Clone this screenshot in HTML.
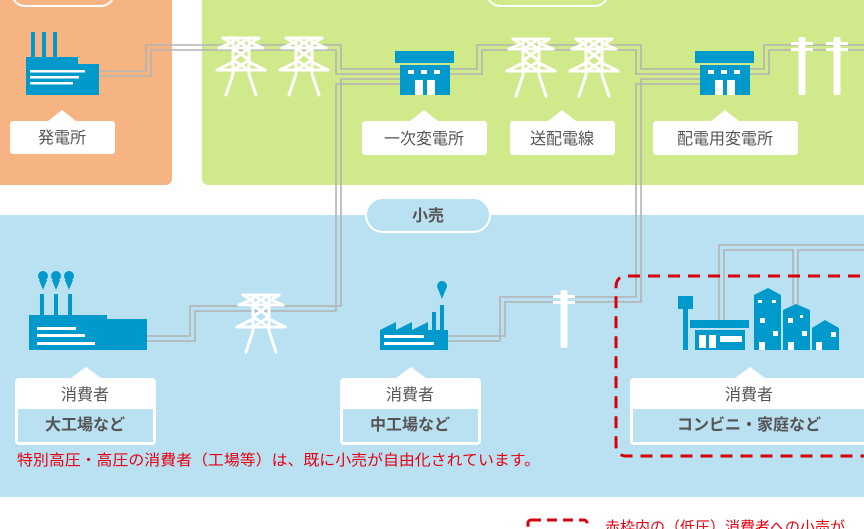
<!DOCTYPE html>
<html><head><meta charset="utf-8"><style>
html,body{margin:0;padding:0;width:864px;height:529px;overflow:hidden;background:#fff}
svg{display:block}
text{font-family:"Liberation Sans","Noto Sans CJK JP",sans-serif}
</style></head><body>
<svg width="864" height="529" viewBox="0 0 864 529" xmlns="http://www.w3.org/2000/svg">
<defs>
<g id="tower" stroke="#fff" stroke-width="3" fill="none" stroke-linecap="round">
 <line x1="-18" y1="0" x2="18" y2="0"/>
 <line x1="-22" y1="10" x2="22" y2="10"/>
 <line x1="-24" y1="32" x2="24" y2="32"/>
 <line x1="-8" y1="0" x2="-8" y2="36"/><line x1="8" y1="0" x2="8" y2="36"/>
 <line x1="-8" y1="0" x2="8" y2="10"/><line x1="8" y1="0" x2="-8" y2="10"/>
 <line x1="-8" y1="10" x2="8" y2="22"/><line x1="8" y1="10" x2="-8" y2="22"/>
 <line x1="-8" y1="22" x2="8" y2="32"/><line x1="8" y1="22" x2="-8" y2="32"/>
 <line x1="-18" y1="0" x2="-8" y2="6"/><line x1="18" y1="0" x2="8" y2="6"/>
 <line x1="-22" y1="10" x2="-8" y2="4"/><line x1="22" y1="10" x2="8" y2="4"/>
 <line x1="-24" y1="32" x2="-8" y2="24"/><line x1="24" y1="32" x2="8" y2="24"/>
 <line x1="-8" y1="36" x2="-15" y2="57"/><line x1="8" y1="36" x2="15" y2="57"/>
</g>
<g id="pole" fill="#fff">
 <rect x="-3.5" y="0" width="7" height="58" rx="2"/>
 <rect x="-11" y="5" width="22" height="3"/>
 <rect x="-11" y="11" width="22" height="3"/>
</g>
<g id="sub">
 <rect x="0" y="0" width="59" height="12" fill="#0099cc"/>
 <rect x="5" y="14" width="50" height="30" fill="#0099cc"/>
 <rect x="13" y="19" width="6" height="4" fill="#fff"/><rect x="26" y="19" width="6" height="4" fill="#fff"/><rect x="39" y="19" width="6" height="4" fill="#fff"/>
 <rect x="20" y="29" width="8" height="15" fill="#fff"/><rect x="32" y="29" width="8" height="15" fill="#fff"/>
</g>
</defs>
<path d="M0 0H172V178Q172 185 165 185H0Z" fill="#f5b482"/>
<path d="M202 0H864V185H209Q202 185 202 178Z" fill="#d0e98a"/>
<rect x="12" y="-20" width="102" height="26" rx="13" fill="none" stroke="#fff" stroke-width="2"/>
<rect x="487" y="-20" width="121" height="26" rx="13" fill="none" stroke="#fff" stroke-width="2"/>
<rect x="0" y="215" width="864" height="282" fill="#b9e1f1"/>
<rect x="366" y="198" width="124" height="34" rx="17" fill="#b9e1f1" stroke="#fff" stroke-width="2"/>
<text x="428" y="221" font-size="16" font-weight="bold" fill="#555" text-anchor="middle">小売</text>

<g fill="none" stroke="#b3b3b3" stroke-width="1.6">
 <polyline points="99,71 146,71 146,45 341,45 341,69 400,69"/>
 <polyline points="99,76 151,76 151,50 336,50 336,74 400,74"/>
 <polyline points="400,79 341,79 341,306 190,306 190,336 147,336"/>
 <polyline points="400,84 336,84 336,311 195,311 195,341 147,341"/>
 <polyline points="450,69 477,69 477,45 641,45 641,69 700,69"/>
 <polyline points="450,74 482,74 482,50 636,50 636,74 700,74"/>
 <polyline points="700,79 641,79 641,302 505,302 505,336 448,336"/>
 <polyline points="700,84 636,84 636,297 500,297 500,341 448,341" />
 <polyline points="750,69 764,69 764,45 864,45"/>
 <polyline points="750,74 769,74 769,50 864,50"/>
 <polyline points="719,325 719,245 864,245"/>
 <polyline points="724,325 724,250 793,250 793,305"/>
 <polyline points="798,305 798,250 864,250"/>
</g>

<g fill="#0099cc">
 <rect x="31" y="32" width="4" height="30"/><rect x="42" y="32" width="4" height="30"/><rect x="53" y="32" width="4" height="30"/>
 <rect x="26" y="57" width="52" height="38"/><rect x="26" y="64" width="73" height="31"/>
</g>
<g fill="#fff"><rect x="30" y="70" width="55" height="2.5"/><rect x="30" y="76" width="49" height="2.5"/><rect x="30" y="82" width="43" height="2.5"/></g>

<use href="#tower" x="241" y="38"/><use href="#tower" x="304" y="38"/>
<use href="#tower" x="531" y="39"/><use href="#tower" x="594" y="39"/>
<use href="#sub" x="395" y="51"/><use href="#sub" x="695" y="51"/>
<use href="#pole" x="802" y="37"/><use href="#pole" x="837" y="37"/>
<use href="#tower" x="261" y="295"/>
<use href="#pole" x="564" y="290"/>

<g fill="#0099cc">
 <circle cx="43" cy="276" r="5"/><circle cx="56" cy="276" r="5"/><circle cx="69" cy="276" r="5"/>
 <path d="M39 280L43 290L47 280ZM52 280L56 290L60 280ZM65 280L69 290L73 280Z"/>
 <rect x="40" y="294" width="4" height="25"/><rect x="54" y="294" width="4" height="25"/><rect x="68" y="294" width="4" height="25"/>
 <rect x="29" y="319" width="118" height="31"/><rect x="29" y="315" width="63" height="10"/><rect x="51" y="315" width="56" height="15"/>
</g>
<g fill="#fff"><rect x="37" y="327" width="39" height="3"/><rect x="37" y="334" width="48" height="3"/><rect x="37" y="342" width="58" height="3"/></g>

<g fill="#0099cc">
 <circle cx="442" cy="286" r="5"/><path d="M438 289L442 299L446 289Z"/>
 <rect x="440" y="305" width="4" height="25"/><rect x="432" y="312" width="4" height="18"/>
 <path d="M380 330L396 322V330L412 322V330L428 322V330H448V350H380Z"/>
</g>
<g fill="#fff"><rect x="384" y="335" width="40" height="3"/><rect x="384" y="342" width="50" height="3"/></g>

<g fill="#0099cc">
 <rect x="678" y="296" width="15" height="13"/><rect x="683" y="309" width="5" height="41"/>
 <rect x="690" y="320" width="59" height="8"/><rect x="695" y="330" width="50" height="20"/>
 <path d="M754 295L768 288L781 295V350H754Z"/>
 <path d="M783 310L796 304L810 310V350H783Z"/>
 <path d="M812 328L825 320L839 328V350H812Z"/>
</g>
<g fill="#fff">
 <rect x="699" y="335" width="7" height="13"/><rect x="709" y="335" width="7" height="13"/><rect x="720" y="336" width="22" height="6"/>
 <rect x="758" y="300" width="4" height="3"/><rect x="772" y="300" width="4" height="3"/>
 <rect x="760" y="318" width="5" height="5"/><rect x="773" y="331" width="5" height="5"/><rect x="759" y="342" width="6" height="8"/>
 <rect x="788" y="318" width="5" height="5"/><rect x="800" y="315" width="3" height="3"/><rect x="802" y="331" width="5" height="5"/><rect x="788" y="342" width="6" height="8"/>
 <rect x="831" y="332" width="5" height="5"/><rect x="816" y="342" width="6" height="8"/>
</g>

<g fill="#fff">
 <rect x="10" y="121" width="105" height="33" rx="3"/><path d="M48 121L62 110L76 121Z"/>
 <rect x="362" y="121" width="125" height="34" rx="3"/><path d="M410 121L424 110L438 121Z"/>
 <rect x="510" y="121" width="105" height="34" rx="3"/><path d="M548 121L562 110L576 121Z"/>
 <rect x="653" y="121" width="145" height="34" rx="3"/><path d="M711 121L725 110L739 121Z"/>
</g>
<g font-size="16" fill="#555" text-anchor="middle">
 <text x="62" y="143">発電所</text>
 <text x="424" y="144">一次変電所</text>
 <text x="562" y="144">送配電線</text>
 <text x="725" y="144">配電用変電所</text>
</g>

<g>
 <rect x="15" y="378" width="141" height="67" rx="4" fill="#fff"/><path d="M71 378L86 367L101 378Z" fill="#fff"/>
 <rect x="18" y="409" width="135" height="33" fill="#b9e1f1"/>
 <rect x="340" y="378" width="141" height="67" rx="4" fill="#fff"/><path d="M396 378L411 367L426 378Z" fill="#fff"/>
 <rect x="343" y="409" width="135" height="33" fill="#b9e1f1"/>
 <rect x="630" y="378" width="250" height="67" rx="4" fill="#fff"/><path d="M735 378L750 367L765 378Z" fill="#fff"/>
 <rect x="633" y="409" width="240" height="33" fill="#b9e1f1"/>
</g>
<g font-size="16" fill="#555" text-anchor="middle">
 <text x="85" y="400">消費者</text><text x="410" y="400">消費者</text><text x="749" y="400">消費者</text>
 <text x="85" y="430" font-weight="bold">大工場など</text>
 <text x="410" y="430" font-weight="bold">中工場など</text>
 <text x="749" y="430" font-weight="bold">コンビニ・家庭など</text>
</g>

<path d="M880 276H627Q616 276 616 287V445Q616 456 627 456H880" fill="none" stroke="#d7000f" stroke-width="3" stroke-dasharray="12 8"/>

<text x="17" y="465" font-size="15" fill="#e60012" textLength="523" lengthAdjust="spacingAndGlyphs">特別高圧・高圧の消費者（工場等）は、既に小売が自由化されています。</text>

<rect x="528" y="520" width="59" height="20" rx="3" fill="none" stroke="#d7000f" stroke-width="3" stroke-dasharray="10 6"/>
<text x="605" y="532" font-size="15" fill="#e60012">赤枠内の（低圧）消費者への小売が</text>
</svg>
</body></html>
